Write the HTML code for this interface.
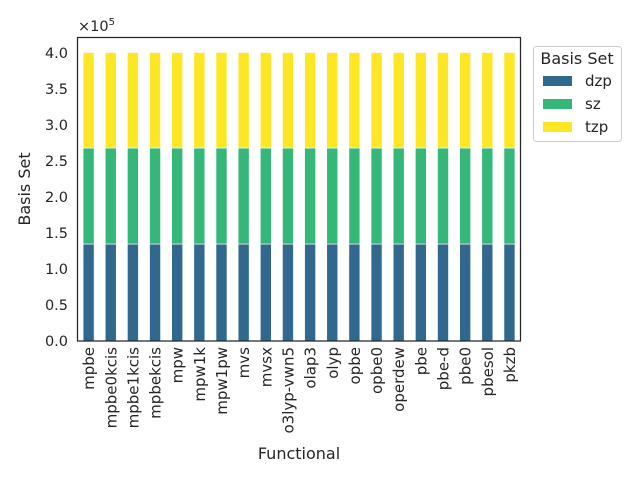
<!DOCTYPE html>
<html><head><style>body{margin:0;background:#fff}</style></head><body>
<svg width="640" height="480" xmlns="http://www.w3.org/2000/svg" font-family="DejaVu Sans, Liberation Sans, sans-serif" font-size="14" fill="#262626">
<g id="bars"></g>
<rect x="77.5" y="37.5" width="443" height="303.5" fill="none" stroke="#262626" stroke-width="1.25"/>
<g font-size="14.5" text-anchor="end">
<text x="68" y="346">0.0</text><text x="68" y="310">0.5</text><text x="68" y="274">1.0</text><text x="68" y="238">1.5</text><text x="68" y="202">2.0</text><text x="68" y="166">2.5</text><text x="68" y="130">3.0</text><text x="68" y="94">3.5</text><text x="68" y="58">4.0</text>
</g>
<text x="78" y="31" font-size="14.5">×10<tspan font-size="10" dy="-6">5</tspan></text>
<text transform="translate(30,189) rotate(-90)" text-anchor="middle" font-size="16">Basis Set</text>
<text x="299" y="459" text-anchor="middle" font-size="16">Functional</text>
<g id="xl" font-size="15" text-anchor="end"></g>
<rect x="533.5" y="46.5" width="88" height="95" rx="3" fill="#fff" stroke="#ccc"/>
<text x="577" y="64" text-anchor="middle" font-size="16">Basis Set</text>
<rect x="543" y="76" width="29" height="10" fill="#31688e"/>
<rect x="543" y="99" width="29" height="10" fill="#35b779"/>
<rect x="543" y="122" width="29" height="10" fill="#fde725"/>
<text x="585" y="86" font-size="15">dzp</text>
<text x="585" y="109" font-size="15">sz</text>
<text x="585" y="132" font-size="15">tzp</text>
</svg>
<script>
const names=["mpbe","mpbe0kcis","mpbe1kcis","mpbekcis","mpw","mpw1k","mpw1pw","mvs","mvsx","o3lyp-vwn5","olap3","olyp","opbe","opbe0","operdew","pbe","pbe-d","pbe0","pbesol","pkzb"];
let b="",l="";
names.forEach((n,i)=>{const c=88.6+i*22.15,x=c-5.5;
b+=`<rect x="${x}" y="244" width="11" height="97" fill="#31688e" stroke="#fff" stroke-width="0.6"/>`;
b+=`<rect x="${x}" y="148" width="11" height="96" fill="#35b779" stroke="#fff" stroke-width="0.6"/>`;
b+=`<rect x="${x}" y="52.5" width="11" height="95.5" fill="#fde725" stroke="#fff" stroke-width="0.6"/>`;
l+=`<text transform="translate(${c+5.5},347) rotate(-90)">${n}</text>`;});
document.getElementById("bars").innerHTML=b;document.getElementById("xl").innerHTML=l;
</script>
</body></html>
